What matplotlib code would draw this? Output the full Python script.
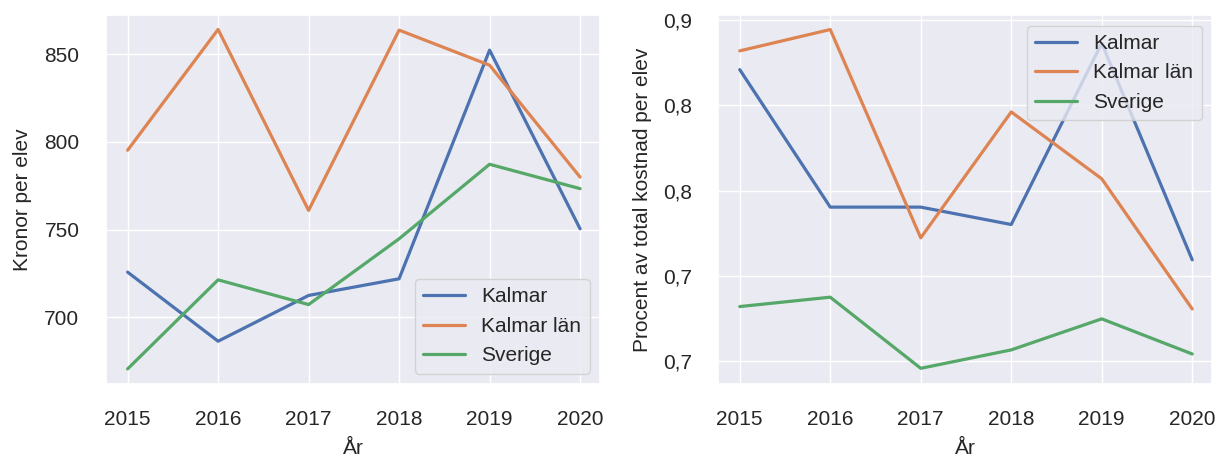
import math
import matplotlib
matplotlib.use("Agg")
import matplotlib.pyplot as plt
import seaborn as sns
from matplotlib.ticker import FuncFormatter

sns.set_theme(style="darkgrid")
plt.rcParams['font.family'] = ['Liberation Sans', 'DejaVu Sans']

years = [2015, 2016, 2017, 2018, 2019, 2020]
series_names = ["Kalmar", "Kalmar län", "Sverige"]

# kronor per elev
kronor_kalmar = [725.7, 686.3, 712.4, 721.9, 852.3, 750.4]
kronor_lan = [795.2, 864.1, 760.9, 863.7, 843.7, 779.9]
kronor_sverige = [670.5, 721.3, 707.2, 744.7, 787.2, 773.3]

# procent av total kostnad per elev
procent_kalmar = [0.871, 0.7904, 0.7904, 0.7802, 0.8865, 0.7595]
procent_lan = [0.882, 0.8945, 0.7724, 0.8462, 0.807, 0.7307]
procent_sverige = [0.7321, 0.7376, 0.6959, 0.7067, 0.7249, 0.7043]

fs = 15

fig = plt.figure(figsize=(12.17, 4.61), dpi=100)
ax1 = fig.add_axes([0.087, 0.167, 0.406, 0.800])
ax2 = fig.add_axes([0.590, 0.167, 0.406, 0.800])

for vals, name in zip([kronor_kalmar, kronor_lan, kronor_sverige], series_names):
    ax1.plot(years, vals, label=name, linewidth=2.3)
ax1.set_ylim(661.9, 872.2)
ax1.set_yticks([700, 750, 800, 850])
ax1.set_ylabel("Kronor per elev", fontsize=fs, labelpad=9)
ax1.legend(loc="lower right", fontsize=fs)

for vals, name in zip([procent_kalmar, procent_lan, procent_sverige], series_names):
    ax2.plot(years, vals, label=name, linewidth=2.3)
ax2.set_ylim(0.6867, 0.9029)
ax2.set_yticks([0.70, 0.75, 0.80, 0.85, 0.90])

def trunc_fmt(v, pos):
    return ("%.1f" % (math.floor(v * 10 + 1e-6) / 10)).replace(".", ",")

ax2.yaxis.set_major_formatter(FuncFormatter(trunc_fmt))
ax2.set_ylabel("Procent av total kostnad per elev", fontsize=fs, labelpad=8)
ax2.legend(loc="upper right", fontsize=fs)

for ax in (ax1, ax2):
    ax.set_xticks(years)
    ax.set_xlim(2014.76, 2020.22)
    ax.set_xlabel("År", fontsize=fs, labelpad=7)
    ax.tick_params(labelsize=fs, length=0, pad=19)

fig.savefig("out.png", dpi=100)
